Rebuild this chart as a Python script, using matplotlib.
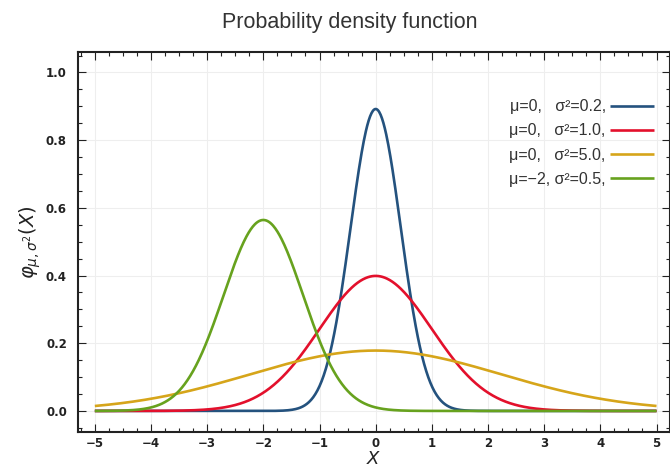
import numpy as np
import matplotlib
matplotlib.use('Agg')
import matplotlib.pyplot as plt
from matplotlib.ticker import MultipleLocator

# parameters of the four normal curves, as printed in the legend
mu = [0, 0, 0, -2]
sigma2 = [0.2, 1.0, 5.0, 0.5]
labels = ['μ=0,   σ²=0.2,', 'μ=0,   σ²=1.0,', 'μ=0,   σ²=5.0,', 'μ=−2, σ²=0.5,']
colors = ['#24527e', '#e3102c', '#d6a51a', '#67a21e']

x_ticks = [-5, -4, -3, -2, -1, 0, 1, 2, 3, 4, 5]
y_ticks = [0.0, 0.2, 0.4, 0.6, 0.8, 1.0]

x = np.linspace(-5, 5, 801)

fig = plt.figure(figsize=(6.7, 4.7), dpi=100)
ax = fig.add_axes([0.1164, 0.081, 0.8836, 0.808])

for m, s2, lab, c in zip(mu, sigma2, labels, colors):
    y = np.exp(-(x - m) ** 2 / (2 * s2)) / np.sqrt(2 * np.pi * s2)
    ax.plot(x, y, color=c, lw=1.9, label=lab, solid_capstyle='butt')

ax.set_xlim(-5.3, 5.24)
ax.set_ylim(-0.062, 1.06)
ax.set_xticks(x_ticks)
ax.set_yticks(y_ticks)
ax.set_xticklabels([str(t).replace('-', '−') for t in x_ticks])
ax.set_yticklabels(['%.1f' % t for t in y_ticks])
ax.xaxis.set_minor_locator(MultipleLocator(0.25))
ax.yaxis.set_minor_locator(MultipleLocator(0.05))
ax.tick_params(which='both', direction='in', top=True, right=True,
               labelsize=8.5, colors='#222222', width=0.8)
ax.tick_params(which='major', length=6)
ax.tick_params(which='minor', length=3)
for lbl in ax.get_xticklabels() + ax.get_yticklabels():
    lbl.set_fontweight('bold')
ax.tick_params(axis='y', pad=8)
ax.grid(True, which='major', color='#eeeeee', lw=0.8)
for sp in ax.spines.values():
    sp.set_linewidth(1.5)
    sp.set_color('#222222')

ax.set_xlabel('$X$', fontsize=13, labelpad=0, color='#222222')
ax.set_ylabel(r'$\varphi_{\mu,\sigma^2}(X)$', fontsize=14, labelpad=2, color='#222222')

leg = ax.legend(loc='upper right', bbox_to_anchor=(0.998, 0.914), frameon=False,
                markerfirst=False, handlelength=2.8, handletextpad=0.25,
                labelspacing=0.58, prop={'family': 'Liberation Sans', 'size': 11.5})
for t in leg.get_texts():
    t.set_color('#333333')

fig.text(0.522, 0.953, 'Probability density function', ha='center', va='center',
         fontsize=15.5, family='Liberation Sans', color='#333333')

fig.savefig('out.png', dpi=100)
